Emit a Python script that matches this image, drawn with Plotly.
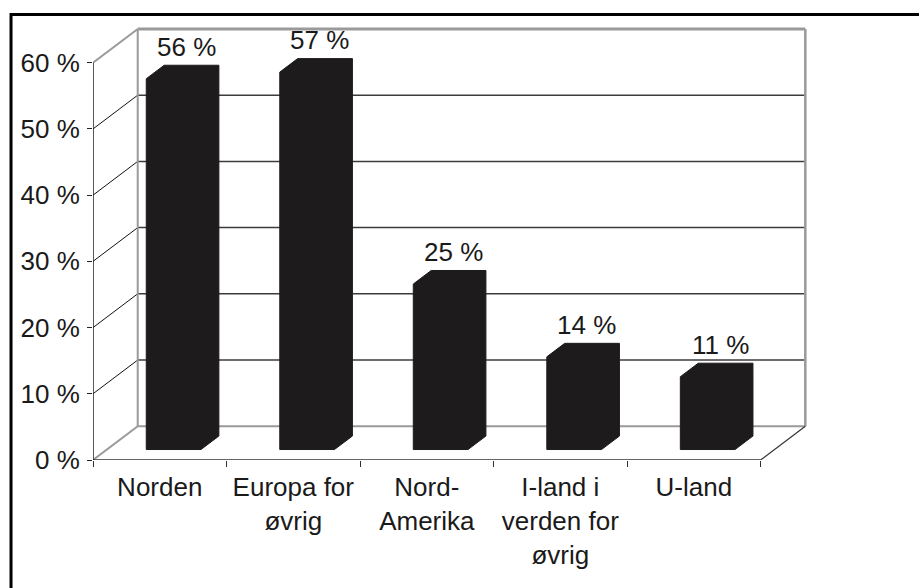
import plotly.graph_objects as go

# ---------------- data ----------------
categories = ["Norden", "Europa for<br>øvrig", "Nord-<br>Amerika",
              "I-land i<br>verden for<br>øvrig", "U-land"]
values = [56, 57, 25, 14, 11]
y_ticks = [0, 10, 20, 30, 40, 50, 60]
y_tick_labels = ["0 %", "10 %", "20 %", "30 %", "40 %", "50 %", "60 %"]

# ---------------- style / 3D projection settings ----------------
FONT = "Liberation Sans, Arial, Helvetica, sans-serif"
FS = 26
TXT = "#1a1a1a"
BAR = "#1d1b1c"
GRID = "#3c3c3c"
EDGE = "#9a9a9a"
DX, DY = 0.335, 5.1            # full wall depth (x units, % units)
F0, FD = 0.31, 0.40            # bar front position and bar depth (fraction of wall depth)
HW = 0.205                     # half width of bar front face
LABEL_GAP = 2.8                # label offset above bar top (%)

n = len(categories)
x_left, x_right = -0.5, n - 0.5
ymax = max(y_ticks)

fig = go.Figure()


def seg(xs, ys, color, width):
    fig.add_trace(go.Scatter(x=xs, y=ys, mode="lines", hoverinfo="skip",
                             showlegend=False,
                             line=dict(color=color, width=width)))


# back wall gridlines
for t in y_ticks:
    if t == 0 or t == ymax:
        continue
    seg([x_left + DX, x_right + DX], [t + DY, t + DY], GRID, 1.5)
# side wall diagonals
for t in y_ticks:
    if t == 0 or t == ymax:
        continue
    seg([x_left, x_left + DX], [t, t + DY], "#111111", 1)
# wall/floor edges
seg([x_left, x_left + DX], [0, DY], EDGE, 2)                      # floor left
seg([x_left + DX, x_right + DX], [DY, DY], EDGE, 2)               # floor back
seg([x_left + DX, x_left + DX], [DY, ymax + DY], EDGE, 2)         # back wall left edge
seg([x_left, x_left + DX], [ymax, ymax + DY], EDGE, 2)            # side wall top
seg([x_left + DX, x_right + DX], [ymax + DY, ymax + DY], EDGE, 3)  # back wall top
seg([x_right + DX, x_right + DX], [DY, ymax + DY], EDGE, 2.5)     # back wall right edge
seg([x_right, x_right + DX], [0, DY], "#333333", 1.2)             # floor right
seg([x_left, x_right], [0, 0], "#333333", 1.5)                    # front floor edge
seg([x_left, x_left], [0, ymax], "#222222", 1.5)                  # front y axis

# bars (3D prisms)
bdx, bdy = FD * DX, FD * DY
for i, v in enumerate(values):
    cx = i + F0 * DX
    b = F0 * DY
    xs = [cx - HW, cx - HW, cx - HW + bdx, cx + HW + bdx, cx + HW + bdx, cx + HW, cx - HW]
    ys = [b, v + b, v + b + bdy, v + b + bdy, b + bdy, b, b]
    fig.add_trace(go.Scatter(x=xs, y=ys, mode="lines", fill="toself",
                             fillcolor=BAR, line=dict(color=BAR, width=1),
                             hoverinfo="skip", showlegend=False))
    fig.add_annotation(x=cx + 0.7 * bdx, y=v + b + bdy + LABEL_GAP, text=f"{v} %",
                       showarrow=False, xanchor="center", yanchor="middle",
                       font=dict(family=FONT, size=FS, color=TXT))

# outer frame (top and left borders)
fig.add_shape(type="line", xref="paper", yref="paper",
              x0=-0.114, x1=1.2, y0=1.0195, y1=1.0195,
              line=dict(color="black", width=3))
fig.add_shape(type="line", xref="paper", yref="paper",
              x0=-0.1137, x1=-0.1137, y0=-0.4, y1=1.023,
              line=dict(color="black", width=3))

fig.update_layout(
    width=919, height=588,
    margin=dict(l=93, r=105, t=23, b=128),
    paper_bgcolor="white", plot_bgcolor="white",
    font=dict(family=FONT, size=FS, color=TXT),
    xaxis=dict(range=[x_left, 4.9], showgrid=False, zeroline=False,
               showline=False, tickmode="array",
               tickvals=list(range(n)), ticktext=categories,
               ticks="", ticklabelstandoff=9,
               tickfont=dict(family=FONT, size=FS, color=TXT),
               minor=dict(tick0=-0.5, dtick=1, ticks="outside", ticklen=6,
                          tickwidth=1.2, tickcolor="#333333", showgrid=False)),
    yaxis=dict(range=[0, 66], showgrid=False, zeroline=False, showline=False,
               tickmode="array", tickvals=y_ticks, ticktext=y_tick_labels,
               ticks="outside", ticklen=5, tickwidth=1.2, tickcolor="#222222",
               ticklabelstandoff=2,
               tickfont=dict(family=FONT, size=FS, color=TXT)),
)

fig.write_html("out.html",
               config={"displayModeBar": False},
               post_script="document.body.style.margin='0px';"
                           "document.body.style.overflow='hidden';")
